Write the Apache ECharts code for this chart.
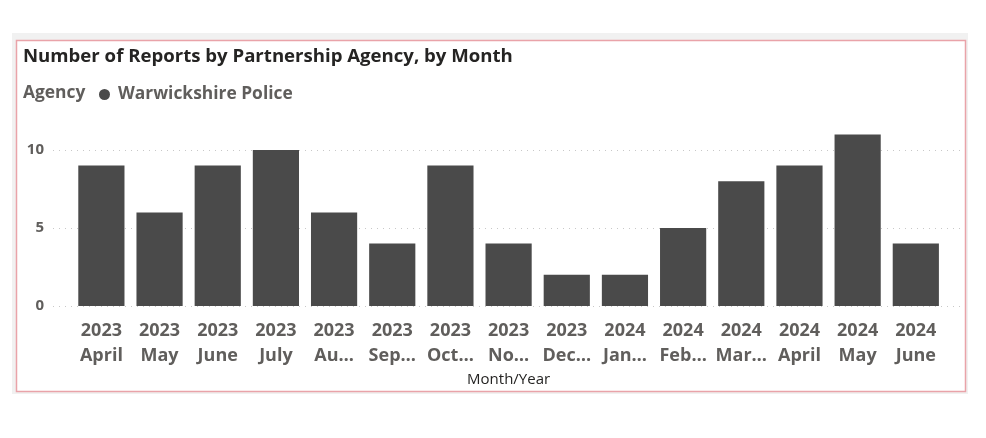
<!DOCTYPE html>
<html>
<head>
<meta charset="utf-8">
<title>Number of Reports by Partnership Agency, by Month</title>
<script src="https://cdn.jsdelivr.net/npm/echarts@6/dist/echarts.min.js"></script>
<style>
  html, body { margin: 0; padding: 0; background: #ffffff; }
  #chart { width: 986px; height: 438px; }
</style>
</head>
<body>
<div id="chart"></div>
<script>
// data
const years = ['2023', '2023', '2023', '2023', '2023', '2023', '2023', '2023', '2023', '2024', '2024', '2024', '2024', '2024', '2024']
const months = ['April', 'May', 'June', 'July', 'Au…', 'Sep…', 'Oct…', 'No…', 'Dec…', 'Jan…', 'Feb…', 'Mar…', 'April', 'May', 'June']
const reports = [9, 6, 9, 10, 6, 4, 9, 4, 2, 2, 5, 8, 9, 11, 4]
const yTicks = [0, 5, 10]

const categories = years.map((y, i) => y + '\n' + months[i])

const FONT = '"Open Sans", "Noto Sans", sans-serif'
const TEXT_GREY = '#605e5c'

const chart = echarts.init(document.getElementById('chart'), null, { renderer: 'canvas' })

const option = {
  backgroundColor: '#ffffff',
  animation: false,
  graphic: [
    { type: 'rect', z: -10, shape: { x: 12, y: 33, width: 956, height: 361 }, style: { fill: '#f1f1f1' } },
    { type: 'rect', z: -9, shape: { x: 16.5, y: 40.5, width: 949, height: 351 }, style: { fill: '#ffffff', stroke: '#e9a3a9', lineWidth: 1.5 } }
  ],
  title: [
    {
      text: 'Number of Reports by Partnership Agency, by Month',
      left: 23,
      top: 47,
      padding: 0,
      textStyle: { fontFamily: FONT, fontSize: 18.6, fontWeight: 'bold', color: '#252423' }
    },
    {
      text: 'Agency',
      left: 23,
      top: 85,
      padding: 0,
      textStyle: { fontFamily: FONT, fontSize: 17.4, fontWeight: 'bold', color: TEXT_GREY }
    }
  ],
  legend: {
    data: ['Warwickshire Police'],
    left: 99,
    top: 86,
    padding: 0,
    icon: 'circle',
    itemWidth: 11,
    itemHeight: 11,
    itemGap: 4,
    textStyle: { fontFamily: FONT, fontSize: 17.4, fontWeight: 'bold', color: TEXT_GREY, padding: [0, 0, 0, 3] },
    inactiveColor: '#cccccc'
  },
  grid: [
    { left: 53, right: 26, top: 118.8, bottom: 132 },
    { left: 72.3, right: 41.1, top: 118.8, bottom: 132 }
  ],
  xAxis: [
    { type: 'value', gridIndex: 0, show: false, min: 0, max: 1 },
    {
      type: 'category',
      gridIndex: 1,
      data: categories,
      axisLine: { show: false },
      axisTick: { show: false },
      axisLabel: {
        interval: 0,
        margin: 12,
        fontFamily: FONT,
        fontSize: 18,
        fontWeight: 'bold',
        lineHeight: 25,
        color: TEXT_GREY
      },
      name: 'Month/Year',
      nameLocation: 'middle',
      nameGap: 66,
      nameTextStyle: { fontFamily: FONT, fontSize: 15, color: '#252423' }
    }
  ],
  yAxis: [
    {
      type: 'value',
      gridIndex: 0,
      min: yTicks[0],
      max: 12,
      interval: yTicks[1] - yTicks[0],
      axisLine: { show: false },
      axisTick: { show: false },
      axisLabel: {
        margin: 9,
        showMaxLabel: false,
        fontFamily: FONT,
        fontSize: 15,
        fontWeight: 'bold',
        color: TEXT_GREY
      },
      splitLine: {
        show: true,
        showMaxLine: false,
        lineStyle: { color: '#c8c8c8', type: [1, 5], width: 1 }
      }
    },
    { type: 'value', gridIndex: 1, min: 0, max: 12, show: false, splitLine: { show: false } }
  ],
  series: [
    {
      name: 'Warwickshire Police',
      type: 'bar',
      xAxisIndex: 1,
      yAxisIndex: 1,
      data: reports,
      barCategoryGap: '20.6%',
      itemStyle: { color: '#4a4a4a' }
    }
  ]
}

chart.setOption(option)
</script>
</body>
</html>
